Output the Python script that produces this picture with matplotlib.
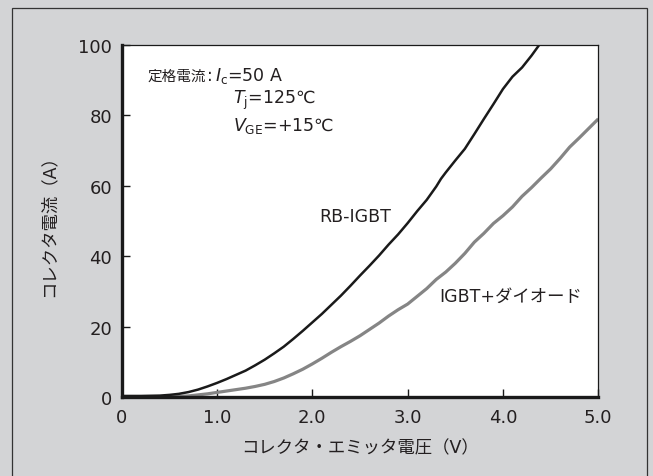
import matplotlib
matplotlib.use("Agg")
import matplotlib.pyplot as plt
from matplotlib.patches import Rectangle

plt.rcParams['font.family'] = ['DejaVu Sans', 'Noto Sans CJK JP']

# RB-IGBT (black curve)
rb_v = [0.0, 0.2, 0.4, 0.5, 0.6, 0.7, 0.8, 0.9, 1.0, 1.1, 1.2, 1.3, 1.4,
        1.5, 1.6, 1.7, 1.8, 1.9, 2.0, 2.1, 2.2, 2.3, 2.4, 2.5, 2.6, 2.7,
        2.8, 2.9, 3.0, 3.1, 3.2, 3.3, 3.35, 3.4, 3.5, 3.6, 3.7, 3.8, 3.9,
        4.0, 4.1, 4.2, 4.3, 4.38]
rb_i = [0.3, 0.3, 0.4, 0.6, 0.9, 1.4, 2.1, 3.0, 4.0, 5.1, 6.3, 7.5, 9.0,
        10.6, 12.4, 14.3, 16.5, 18.8, 21.2, 23.6, 26.2, 28.8, 31.6, 34.5,
        37.3, 40.2, 43.3, 46.2, 49.4, 52.8, 56.0, 59.8, 62.0, 63.8, 67.2,
        70.5, 74.7, 79.0, 83.2, 87.5, 91.0, 93.6, 97.0, 100.0]

# IGBT + diode (gray curve)
ig_v = [0.3, 0.5, 0.7, 0.8, 0.9, 1.0, 1.1, 1.2, 1.3, 1.4, 1.5, 1.6, 1.7,
        1.8, 1.9, 2.0, 2.1, 2.2, 2.3, 2.4, 2.5, 2.6, 2.7, 2.8, 2.9, 3.0,
        3.1, 3.2, 3.3, 3.4, 3.5, 3.6, 3.7, 3.8, 3.9, 4.0, 4.1, 4.2, 4.3,
        4.4, 4.5, 4.6, 4.7, 4.8, 4.9, 5.0]
ig_i = [0.0, 0.1, 0.3, 0.6, 0.9, 1.3, 1.7, 2.1, 2.5, 3.0, 3.6, 4.4, 5.4,
        6.6, 7.9, 9.4, 11.0, 12.7, 14.3, 15.8, 17.4, 19.2, 21.0, 23.0,
        24.8, 26.4, 28.6, 30.8, 33.4, 35.5, 38.0, 40.8, 44.0, 46.5, 49.3,
        51.5, 54.0, 57.0, 59.5, 62.2, 64.8, 67.8, 71.0, 73.6, 76.3, 79.0]

x_ticks = [0, 1, 2, 3, 4, 5]
x_tick_labels = ["0", "1.0", "2.0", "3.0", "4.0", "5.0"]
y_ticks = [0, 20, 40, 60, 80, 100]

text_color = "#231f20"
bg = "#d3d4d6"

fig = plt.figure(figsize=(6.53, 4.77), dpi=100, facecolor=bg)
fig.patches.append(Rectangle((12 / 653, -0.1), 635 / 653, 1.1 - 9 / 477,
                             transform=fig.transFigure, fill=False,
                             edgecolor="#333333", linewidth=0.9))

ax = fig.add_axes([0.1864, 0.1656, 0.7298, 0.738])
ax.set_facecolor("white")

ax.plot(ig_v, ig_i, color="#858585", linewidth=2.3, solid_capstyle="butt")
ax.plot(rb_v, rb_i, color="#1a1a1a", linewidth=1.8, solid_capstyle="butt")

ax.set_xlim(0, 5)
ax.set_ylim(0, 100)
ax.set_xticks(x_ticks)
ax.set_xticklabels(x_tick_labels)
ax.set_yticks(y_ticks)

for side in ["left", "bottom"]:
    ax.spines[side].set_linewidth(2.4)
for side in ["top", "right"]:
    ax.spines[side].set_linewidth(0.9)
for sp in ax.spines.values():
    sp.set_color("#1a1a1a")

ax.tick_params(direction="in", length=6, width=1.0, color="#1a1a1a",
               labelsize=13, labelcolor=text_color)
ax.tick_params(axis="x", pad=8)
ax.tick_params(axis="y", pad=7)

ax.set_xlabel("コレクタ・エミッタ電圧（V）", fontsize=12.5, color=text_color, labelpad=9)
ax.set_ylabel("コレクタ電流（A）", fontsize=12.5, color=text_color, labelpad=15)

# rating conditions
ax.text(0.055, 0.915, "定格電流", transform=ax.transAxes,
        fontsize=10.5, color=text_color, va="center", ha="left")
ax.text(0.180, 0.915, ":", transform=ax.transAxes,
        fontsize=12.5, color=text_color, va="center", ha="left")
ax.text(0.196, 0.915, "$I_{\\rm c}$=50 A", transform=ax.transAxes,
        fontsize=12.5, color=text_color, va="center", ha="left")
ax.text(0.233, 0.845, "$T_{\\rm j}$=125℃", transform=ax.transAxes,
        fontsize=12.5, color=text_color, va="center", ha="left")
ax.text(0.233, 0.773, "$V_{\\rm GE}$=+15℃", transform=ax.transAxes,
        fontsize=12.5, color=text_color, va="center", ha="left")

ax.text(2.45, 51.4, "RB-IGBT", fontsize=12.5, color=text_color, ha="center", va="center")
ax.text(4.08, 28.7, "IGBT+ダイオード", fontsize=12.5, color=text_color, ha="center", va="center")

fig.savefig("out.png", dpi=100, facecolor=bg)
